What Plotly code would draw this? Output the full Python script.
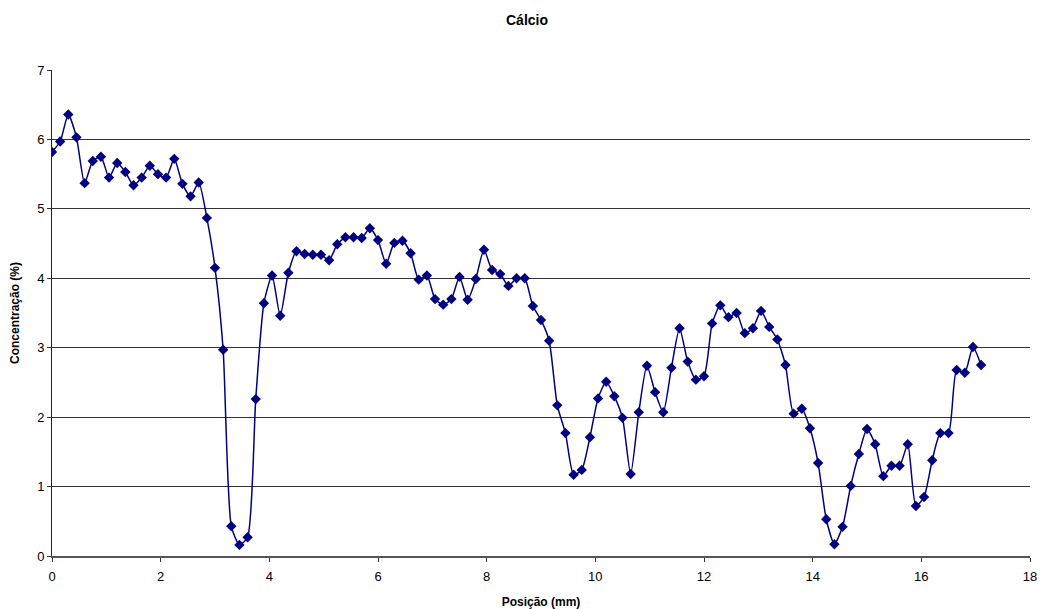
import plotly.graph_objects as go

posicao_mm = [
    0.00, 0.15, 0.30, 0.45, 0.60, 0.75, 0.90, 1.05, 1.20, 1.35,
    1.50, 1.65, 1.80, 1.95, 2.10, 2.25, 2.40, 2.55, 2.70, 2.85,
    3.00, 3.15, 3.30, 3.45, 3.60, 3.75, 3.90, 4.05, 4.20, 4.35,
    4.50, 4.65, 4.80, 4.95, 5.10, 5.25, 5.40, 5.55, 5.70, 5.85,
    6.00, 6.15, 6.30, 6.45, 6.60, 6.75, 6.90, 7.05, 7.20, 7.35,
    7.50, 7.65, 7.80, 7.95, 8.10, 8.25, 8.40, 8.55, 8.70, 8.85,
    9.00, 9.15, 9.30, 9.45, 9.60, 9.75, 9.90, 10.05, 10.20, 10.35,
    10.50, 10.65, 10.80, 10.95, 11.10, 11.25, 11.40, 11.55, 11.70, 11.85,
    12.00, 12.15, 12.30, 12.45, 12.60, 12.75, 12.90, 13.05, 13.20, 13.35,
    13.50, 13.65, 13.80, 13.95, 14.10, 14.25, 14.40, 14.55, 14.70, 14.85,
    15.00, 15.15, 15.30, 15.45, 15.60, 15.75, 15.90, 16.05, 16.20, 16.35,
    16.50, 16.65, 16.80, 16.95, 17.10,
]

concentracao = [
    5.82, 5.97, 6.36, 6.03, 5.37, 5.69, 5.75, 5.45, 5.66, 5.53,
    5.34, 5.45, 5.62, 5.50, 5.45, 5.72, 5.36, 5.18, 5.38, 4.87,
    4.15, 2.97, 0.43, 0.16, 0.27, 2.26, 3.64, 4.04, 3.46, 4.08,
    4.39, 4.35, 4.34, 4.34, 4.26, 4.49, 4.59, 4.59, 4.58, 4.72,
    4.55, 4.21, 4.51, 4.54, 4.36, 3.98, 4.04, 3.70, 3.62, 3.70,
    4.02, 3.69, 3.99, 4.41, 4.12, 4.06, 3.89, 4.00, 4.00, 3.60,
    3.40, 3.10, 2.17, 1.77, 1.17, 1.24, 1.71, 2.27, 2.51, 2.30,
    1.99, 1.18, 2.07, 2.74, 2.36, 2.07, 2.71, 3.28, 2.80, 2.54,
    2.59, 3.35, 3.61, 3.44, 3.50, 3.21, 3.28, 3.53, 3.30, 3.12,
    2.75, 2.05, 2.12, 1.84, 1.34, 0.53, 0.17, 0.42, 1.01, 1.47,
    1.83, 1.61, 1.15, 1.30, 1.30, 1.61, 0.72, 0.85, 1.38, 1.77,
    1.77, 2.68, 2.64, 3.01, 2.75,
]

x_ticks = [0, 2, 4, 6, 8, 10, 12, 14, 16, 18]
y_ticks = [0, 1, 2, 3, 4, 5, 6, 7]

FONT = "Liberation Sans, Arial, sans-serif"
NAVY = "#000080"

fig = go.Figure()
fig.add_trace(go.Scatter(
    x=posicao_mm, y=concentracao,
    mode="lines+markers",
    line=dict(color=NAVY, width=1.5, shape="spline", smoothing=0.6),
    marker=dict(symbol="diamond", size=8, color=NAVY),
    showlegend=False,
))

fig.update_layout(
    width=1038, height=601,
    margin=dict(l=44, r=16, t=62, b=53),
    paper_bgcolor="white", plot_bgcolor="white",
    font=dict(family=FONT, size=12, color="black"),
    title=dict(text="<b>Cálcio</b>", x=0.5, xanchor="center", y=0.98, yanchor="middle",
               font=dict(family=FONT, size=14, color="black")),
    xaxis=dict(
        range=[0, 18], tickvals=x_ticks, ticks="outside", ticklen=4, tickcolor="#333333",
        showline=True, linecolor="#555555", linewidth=2, showgrid=False, zeroline=False,
        automargin=False, ticklabelstandoff=3,
        title=dict(text="<b>Posição (mm)</b>", font=dict(family=FONT, size=12), standoff=17),
        tickfont=dict(family=FONT, size=13),
    ),
    yaxis=dict(
        range=[0, 7], tickvals=y_ticks, ticks="outside", ticklen=4, tickcolor="#333333",
        showline=True, linecolor="#222222", linewidth=1,
        showgrid=True, gridcolor="#333333", gridwidth=1, zeroline=False,
        automargin=False,
        title=dict(text="<b>Concentração (%)</b>", font=dict(family=FONT, size=12), standoff=14),
        tickfont=dict(family=FONT, size=13),
    ),
)

fig.write_html("out.html")
